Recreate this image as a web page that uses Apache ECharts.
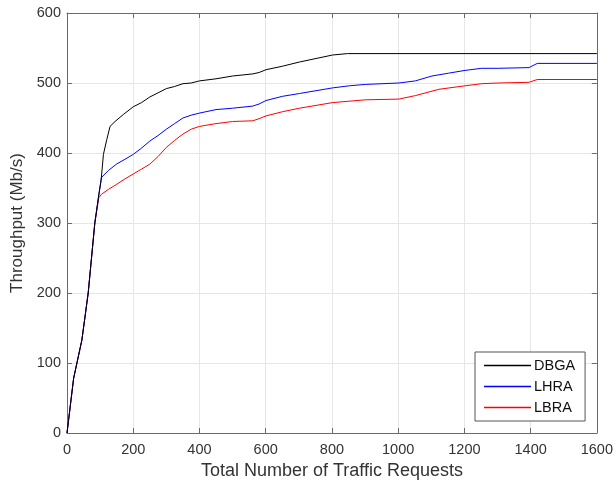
<!DOCTYPE html>
<html><head><meta charset="utf-8">
<script src="https://cdn.jsdelivr.net/npm/echarts@6/dist/echarts.min.js"></script>
<style>html,body{margin:0;padding:0;background:#fff}#c{width:616px;height:486px}</style>
</head><body><div id="c"></div>
<script>
const seriesNames = ['DBGA', 'LHRA', 'LBRA'];
const dbgaX = [0,20,45,64,84,96,103,110,120,130,145,170,200,225,250,275,300,325,350,375,400,450,500,561,580,601,651,702,752,802,847,1600];
const dbgaY = [0,78,133,200,300,340,361,398,419,438,445,455,466,472,480,486,492,495,499,500,503,506,510,513,515,519,524,530,535,540,542,542];
const lhraX = [0,20,45,64,84,96,104,125,149,175,200,225,250,275,300,325,350,375,400,450,500,561,580,601,651,702,752,802,852,902,1002,1052,1102,1152,1202,1252,1302,1395,1420,1600];
const lhraY = [0,78,133,200,300,340,365,375,384,391,398,407,417,425,434,442,450,454,457,462,464,467,470,475,481,485,489,493,496,498,500,503,510,514,518,521,521,522,528,528];
const lbraX = [0,20,45,64,84,96,104,125,149,175,200,225,250,275,300,325,350,375,400,450,500,561,580,601,651,702,752,802,852,902,1002,1052,1123,1202,1252,1302,1395,1420,1600];
const lbraY = [0,78,133,200,300,336,341,348,355,363,370,377,384,395,408,418,427,434,438,442,445,446,449,453,459,464,468,472,474,476,477,482,491,496,499,500,501,505,505];
const xTicks = [0,200,400,600,800,1000,1200,1400,1600];
const yTicks = [0,100,200,300,400,500,600];
const colors = ['#000000', '#0000ff', '#ff0000'];

const pairs = (xs, ys) => xs.map((x, i) => [x, ys[i]]);
const chart = echarts.init(document.getElementById('c'));
const axisColor = '#6a6a6a';
const labelColor = '#333333';
const font = 'Liberation Sans';
const baseX = {
  type: 'value', min: xTicks[0], max: xTicks[xTicks.length-1], interval: 200,
  axisLine: {show: true, onZero: false, lineStyle: {color: axisColor, width: 1}},
  axisTick: {show: true, inside: true, length: 5, lineStyle: {color: axisColor}},
};
const baseY = {
  type: 'value', min: yTicks[0], max: yTicks[yTicks.length-1], interval: 100,
  axisLine: {show: true, onZero: false, lineStyle: {color: axisColor, width: 1}},
  axisTick: {show: true, inside: true, length: 5, lineStyle: {color: axisColor}},
};
chart.setOption({
  backgroundColor: '#fff',
  animation: false,
  grid: {left: 67, right: 17, top: 13, bottom: 53},
  legend: {
    orient: 'vertical', left: 475, top: 352,
    data: seriesNames,
    icon: 'rect', itemWidth: 47, itemHeight: 1.5, itemGap: 6,
    padding: [6, 10, 6, 9],
    borderColor: '#555', borderWidth: 1, backgroundColor: '#fff',
    textStyle: {fontFamily: font, fontSize: 14.5, color: '#111', padding: [0,0,0,-2]}
  },
  xAxis: [
    Object.assign({}, baseX, {
      position: 'bottom',
      name: 'Total Number of Traffic Requests', nameLocation: 'middle', nameGap: 26,
      nameTextStyle: {fontFamily: font, fontSize: 18, color: labelColor},
      axisLabel: {fontFamily: font, fontSize: 14.5, color: labelColor, margin: 9, formatter: v => String(v)},
      splitLine: {show: true, lineStyle: {color: '#e6e6e6', width: 1}}
    }),
    Object.assign({}, baseX, {position: 'top', axisLabel: {show: false}, splitLine: {show: false}})
  ],
  yAxis: [
    Object.assign({}, baseY, {
      position: 'left',
      name: 'Throughput (Mb/s)', nameLocation: 'middle', nameGap: 38,
      nameTextStyle: {fontFamily: font, fontSize: 17, color: labelColor},
      axisLabel: {fontFamily: font, fontSize: 14.5, color: labelColor, margin: 6, formatter: v => String(v)},
      splitLine: {show: true, lineStyle: {color: '#e6e6e6', width: 1}}
    }),
    Object.assign({}, baseY, {position: 'right', axisLabel: {show: false}, splitLine: {show: false}})
  ],
  series: [
    {name: seriesNames[0], type: 'line', data: pairs(dbgaX, dbgaY)},
    {name: seriesNames[1], type: 'line', data: pairs(lhraX, lhraY)},
    {name: seriesNames[2], type: 'line', data: pairs(lbraX, lbraY)}
  ].map((s, i) => Object.assign(s, {
    showSymbol: false, symbol: 'none', z: 5 - i,
    lineStyle: {color: colors[i], width: 1},
    itemStyle: {color: colors[i]}
  }))
});
</script></body></html>
